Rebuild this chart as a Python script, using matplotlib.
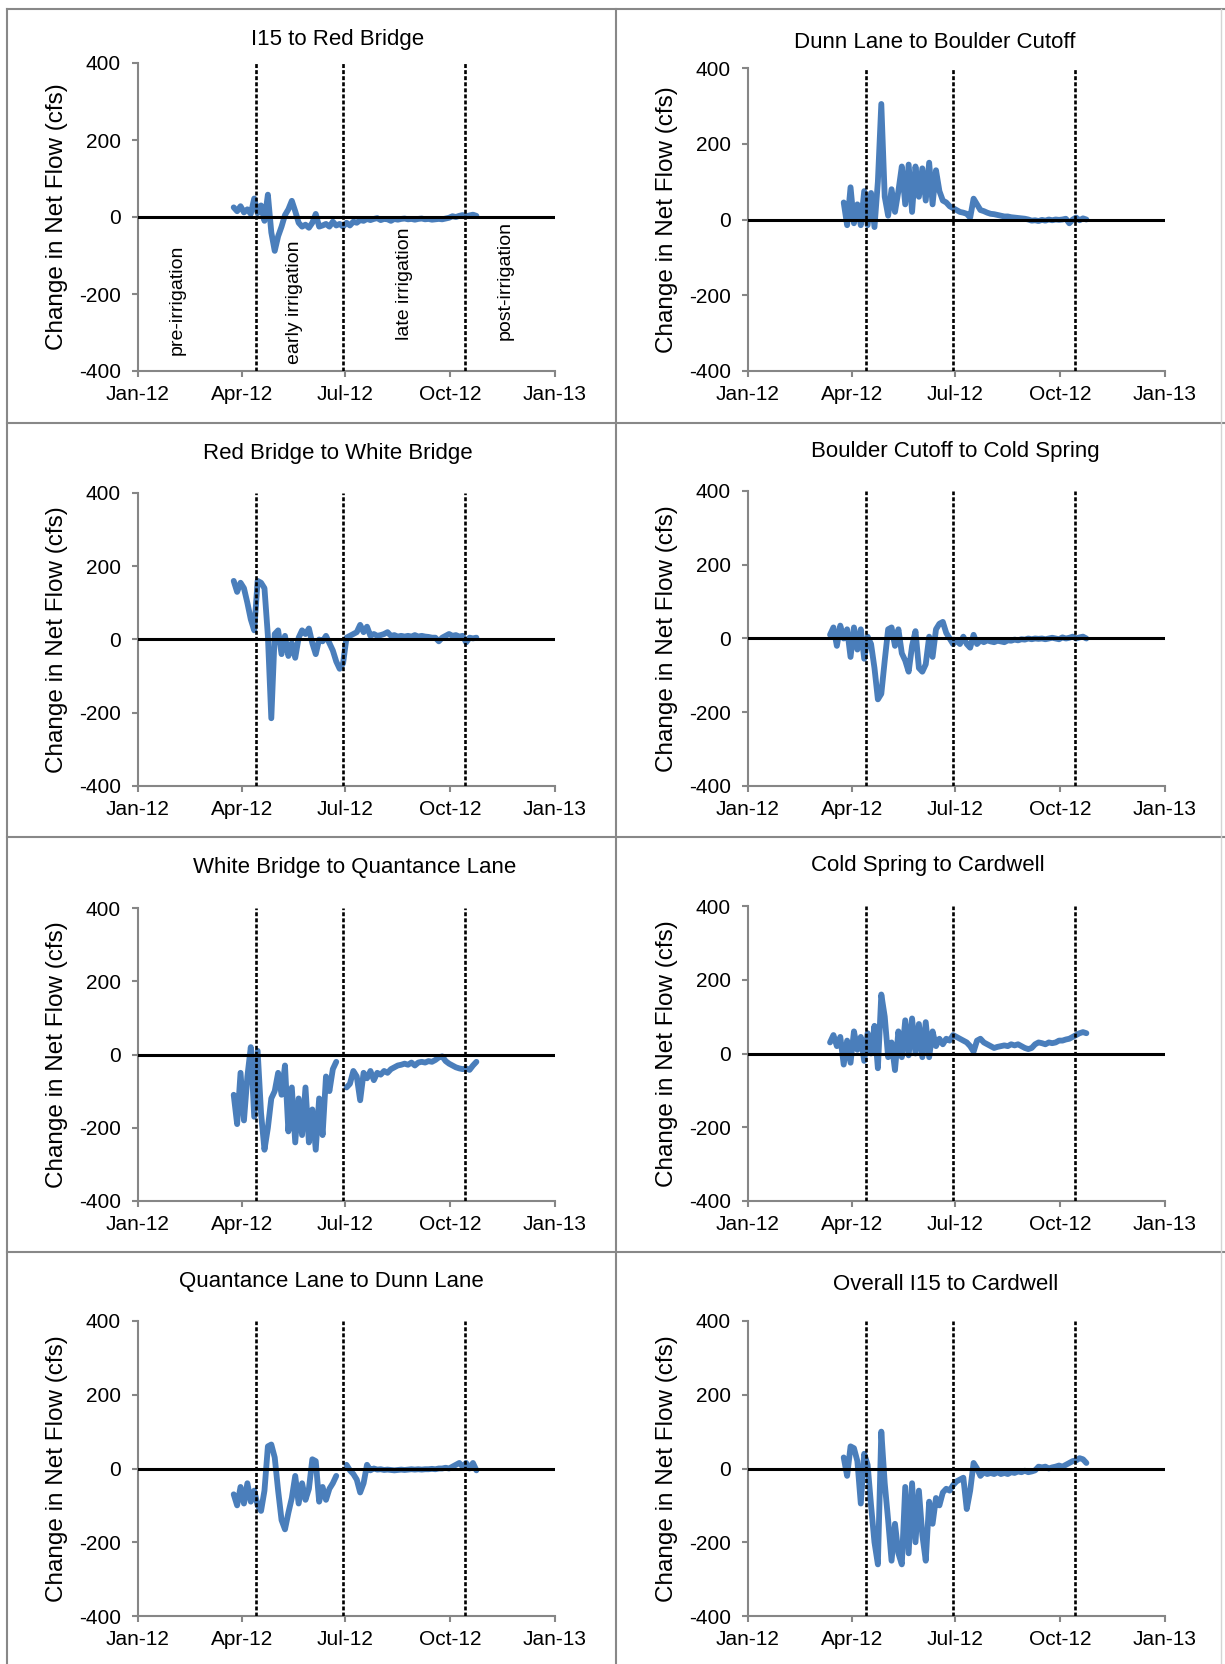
import numpy as np
import matplotlib
matplotlib.use('Agg')
import matplotlib.pyplot as plt
import matplotlib.dates as mdates
from matplotlib.lines import Line2D

plt.rcParams['font.family'] = ['Liberation Sans', 'DejaVu Sans']
plt.rcParams['axes.unicode_minus'] = False

W, H = 1225, 1664
nan = np.nan

# sampling grid: every 3 days from 13 Mar 2012 to 24 Oct 2012
dates = np.datetime64('2012-03-13') + np.arange(0, 228, 3).astype('timedelta64[D]')
pad = [nan] * 4  # most reaches start on 25 Mar

# phase boundaries (dashed lines)
phase_dates = [np.datetime64('2012-04-14'), np.datetime64('2012-06-29'), np.datetime64('2012-10-14')]

i15_red = pad + [25, 15, 28, 12, 20, 8, 48, 10, 30, -10, 58, -40, -88, -50, -25, 5, 20, 42, 15, -15,
                 -25, -20, -28, -15, 8, -25, -22, -18, -25, -12, -22, -18, -25, -15, -22, -12, -15, -8, -10, -5,
                 -8, -5, -3, -8, -5, -6, -10, -5, -7, -5, -4, -6, -5, -7, -5, -4, -6, -5, -7, -6,
                 -5, -6, -4, -2, 2, 0, 3, 5, 2, 4, 6, 3]

dunn_boulder = pad + [45, -15, 85, -10, 40, -15, 75, -15, 70, -20, 100, 305, 60, 10, 80, 20, 75, 140, 40, 145,
                      20, 140, 60, 135, 50, 150, 40, 130, 75, 50, 45, 35, 30, 25, 20, 18, 15, 5, 55, 40,
                      25, 22, 18, 15, 14, 12, 10, 8, 8, 6, 5, 4, 3, 2, 0, -3, -2, -4, -1, -3,
                      0, -2, 0, -1, 0, 2, -10, 0, 5, -2, 3, 0]

red_white = pad + [160, 130, 155, 140, 100, 55, 25, 160, 155, 140, 10, -215, 15, 25, -40, 10, -45, -10, -50, 5,
                   25, 15, 30, -10, -40, 0, -5, 10, -10, -30, -60, -80, -65, 5, 10, 15, 20, 40, 20, 35,
                   10, 15, 10, 12, 15, 20, 10, 12, 8, 10, 8, 10, 8, 12, 8, 10, 8, 7, 5, 5,
                   -5, 5, 10, 15, 10, 12, 8, 10, -8, 5, 3, 5]

boulder_cold = [10, 30, -20, 35, 0, 25, -50, 30, -30, 25, -55, 5, -15, -80, -165, -150, -60, 25, 30, -20,
                25, -40, -60, -90, -20, 20, -80, -90, -70, 5, -50, 25, 40, 45, 15, 0, -15, -5, -15, 5,
                -15, -25, 10, -15, -5, -10, -5, -8, -10, -6, -8, -10, -5, -6, -3, -5, -2, -3, 0, -2,
                0, -1, 0, -2, 0, 2, 0, -2, 3, 0, 2, 5, 0, 3, 5, 0]

white_quant = pad + [-110, -190, -50, -180, -60, 20, -170, 10, -160, -260, -200, -120, -100, -50, -110, -30, -210, -90, -240, -120,
                     -220, -90, -240, -150, -260, -120, -220, -60, -100, -40, -20, nan, nan, -90, -80, -45, -60, -125, -50, -65,
                     -45, -70, -50, -55, -45, -50, -40, -35, -30, -28, -25, -28, -22, -30, -22, -20, -22, -18, -20, -15,
                     -8, -5, -18, -25, -30, -35, -38, -40, -38, -42, -30, -20]

cold_card = [30, 50, 20, 45, -30, 35, -25, 60, 10, 45, -20, 55, 0, 75, -40, 160, 100, -10, 30, -45,
             60, -10, 90, -5, 95, 0, 80, -10, 85, -10, 60, 20, 40, 25, 40, 35, 50, 45, 40, 35,
             30, 20, 5, 35, 40, 30, 25, 20, 15, 18, 20, 22, 20, 25, 22, 25, 20, 15, 12, 15,
             25, 30, 28, 25, 30, 28, 30, 35, 35, 38, 40, 45, 50, 55, 58, 55]

quant_dunn = pad + [-70, -100, -50, -95, -40, -90, -60, -100, -115, -60, 60, 65, 30, -60, -140, -165, -120, -80, -20, -95,
                    -40, -85, -55, 25, 20, -90, -50, -85, -55, -40, -20, nan, nan, 10, -5, -15, -30, -65, -40, 10,
                    -5, 0, -3, -2, -4, -3, -4, -5, -4, -3, -4, -3, -2, -3, -2, -3, -2, -2, -1, -2,
                    0, 0, 2, 0, 5, 10, 15, 5, 15, 0, 15, -5]

overall = pad + [30, -20, 60, 55, 20, -95, 40, 10, -100, -200, -260, 100, -40, -140, -250, -150, -230, -260, -50, -230,
                 -40, -200, -60, -180, -250, -90, -150, -80, -100, -65, -55, -60, -45, -35, -30, -25, -110, -60, 15, 0,
                 -20, -10, -15, -12, -15, -10, -15, -12, -15, -10, -12, -8, -10, -6, -10, -8, -5, 5, 3, 5,
                 0, 3, 5, 8, 5, 10, 15, 20, 22, 28, 25, 15]

titles = ['I15 to Red Bridge', 'Dunn Lane to Boulder Cutoff',
          'Red Bridge to White Bridge', 'Boulder Cutoff to Cold Spring',
          'White Bridge to Quantance Lane', 'Cold Spring to Cardwell',
          'Quantance Lane to Dunn Lane', 'Overall I15 to Cardwell']
series = [i15_red, dunn_boulder, red_white, boulder_cold,
          white_quant, cold_card, quant_dunn, overall]

# axes boxes in pixels (x0, y0, x1, y1) and title centres
boxes = [(138, 63, 555, 371), (748, 68, 1165, 371),
         (138, 493, 555, 786), (748, 491, 1165, 786),
         (138, 908, 555, 1201), (748, 906, 1165, 1201),
         (138, 1321, 555, 1616), (748, 1321, 1165, 1616)]
title_pos = [(338, 40), (935, 43), (338, 453), (955, 452),
             (355, 868), (928, 866), (331, 1281), (946, 1285)]

blue = '#4A7EBB'
grey = '#868686'

fig = plt.figure(figsize=(W / 100, H / 100), dpi=100)
fig.patch.set_facecolor('white')

# cell borders
def border(x0, y0, x1, y1, color='#888888', lw=1.5):
    fig.add_artist(Line2D([x0 / W, x1 / W], [1 - y0 / H, 1 - y1 / H],
                          transform=fig.transFigure, color=color, lw=lw))

border(7, 9, 7, H)
border(7, 9, 1224, 9)
border(616, 9, 616, H)
for yb in [423, 837, 1252]:
    border(7, yb, 1224, yb)
border(1221, 9, 1221, H, color='#d4d4d4', lw=1.0)

xticks = [np.datetime64(d) for d in ['2012-01-01', '2012-04-01', '2012-07-01', '2012-10-01', '2013-01-01']]

for i, (vals, box) in enumerate(zip(series, boxes)):
    x0, y0, x1, y1 = box
    ax = fig.add_axes([x0 / W, 1 - y1 / H, (x1 - x0) / W, (y1 - y0) / H])
    ax.plot(dates, np.array(vals, dtype=float), color=blue, lw=4.2,
            solid_joinstyle='round', solid_capstyle='round', zorder=2)
    ax.axhline(0, color='black', lw=2.2, zorder=3)
    for d in phase_dates:
        ax.plot([d, d], [-400, 400], color='black', lw=1.9,
                linestyle=(0, (1.5, 0.8)), zorder=3)
    ax.set_xlim(xticks[0], xticks[-1])
    ax.set_ylim(-400, 400)
    ax.set_yticks([-400, -200, 0, 200, 400])
    ax.set_xticks(xticks)
    ax.xaxis.set_major_formatter(mdates.DateFormatter('%b-%y'))
    for s in ['top', 'right']:
        ax.spines[s].set_visible(False)
    for s in ['left', 'bottom']:
        ax.spines[s].set_color(grey)
        ax.spines[s].set_linewidth(1.5)
    ax.tick_params(direction='out', length=4.3, width=1.5, color=grey,
                   labelsize=15, labelcolor='black')
    ax.tick_params(axis='y', pad=8)
    ax.tick_params(axis='x', pad=6)
    ax.set_facecolor('none')

    tx, ty = title_pos[i]
    fig.text(tx / W, 1 - ty / H, titles[i], ha='center', va='center', fontsize=16)
    lx = 57 if x0 < 600 else 667
    fig.text(lx / W, 1 - (y0 + y1) / 2 / H, 'Change in Net Flow (cfs)',
             rotation=90, ha='center', va='center', fontsize=17.5)

    if i == 0:
        labels = [('pre-irrigation', '2012-02-04', -215),
                  ('early irrigation', '2012-05-17', -221),
                  ('late irrigation', '2012-08-22', -173),
                  ('post-irrigation', '2012-11-18', -164)]
        for txt, d, yv in labels:
            ax.text(np.datetime64(d), yv, txt, rotation=90, ha='center',
                    va='center', fontsize=14)

fig.savefig('out.png', dpi=100)
